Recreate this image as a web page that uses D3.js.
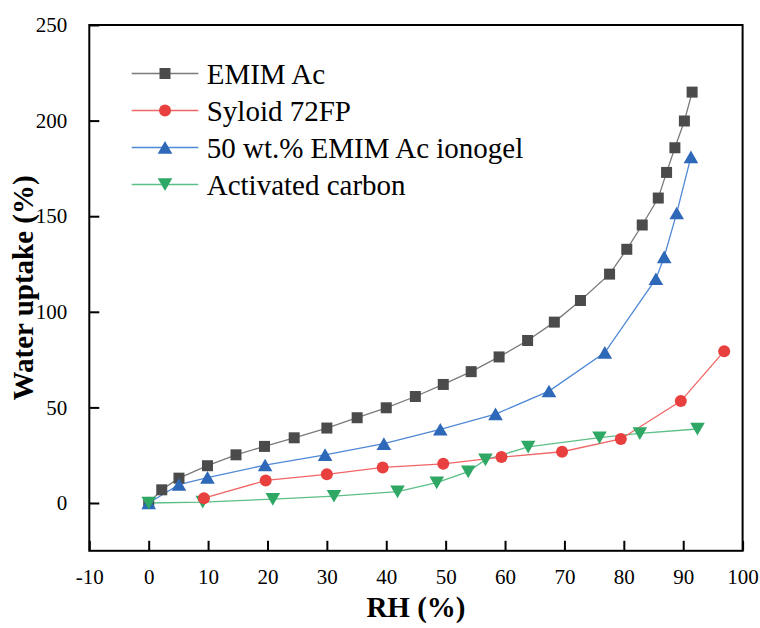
<!DOCTYPE html>
<html>
<head>
<meta charset="utf-8">
<script src="https://cdn.jsdelivr.net/npm/d3@7"></script>
<style>
  body { margin: 0; background: #fff; }
  svg { display: block; }
</style>
</head>
<body>
<script>
// Data
const xTicks = [-10, 0, 10, 20, 30, 40, 50, 60, 70, 80, 90, 100];
const yTicks = [0, 50, 100, 150, 200, 250];

const emimRH = [0, 2.2, 5.1, 9.9, 14.7, 19.5, 24.5, 30.0, 35.1, 40.0, 44.9, 49.6, 54.3, 59.0, 63.8, 68.3, 72.7, 77.6, 80.5, 83.1, 85.8, 87.2, 88.6, 90.2, 91.5];
const emimUptake = [0, 6.9, 13.0, 19.5, 25.2, 29.6, 34.1, 39.2, 44.6, 49.8, 55.7, 62.0, 68.7, 76.4, 85.0, 94.6, 105.9, 119.7, 132.7, 145.4, 159.5, 172.9, 185.8, 199.8, 214.9];

const syloidRH = [9.3, 19.7, 30.0, 39.4, 49.6, 59.4, 69.6, 79.5, 89.6, 96.9];
const syloidUptake = [2.5, 11.8, 15.0, 18.6, 20.5, 24.0, 26.8, 33.5, 53.3, 79.4];

const ionogelRH = [0, 5.1, 9.9, 19.6, 29.7, 39.6, 49.1, 58.4, 67.4, 76.8, 85.4, 86.8, 88.9, 91.3];
const ionogelUptake = [0, 9.6, 13.3, 19.8, 25.2, 31.0, 38.5, 46.5, 58.5, 78.7, 117.2, 128.7, 151.6, 181.0];

const carbonRH = [0, 9.1, 20.9, 31.2, 41.9, 48.5, 53.8, 56.7, 63.9, 75.9, 82.7, 92.4];
const carbonUptake = [0, 0.5, 2.0, 3.6, 5.9, 10.6, 16.4, 22.6, 29.3, 34.2, 36.4, 38.7];

const seriesNames = ["EMIM Ac", "Syloid 72FP", "50 wt.% EMIM Ac ionogel", "Activated carbon"];

// Build series table (draw order: black, blue, green, red)
const series = [
  { name: seriesNames[0], xs: emimRH, ys: emimUptake, shape: "square", fill: "#4b4b4b", line: "#7a7a7a", legend: 0 },
  { name: seriesNames[2], xs: ionogelRH, ys: ionogelUptake, shape: "up", fill: "#2e68b8", line: "#4f88d6", legend: 2 },
  { name: seriesNames[3], xs: carbonRH, ys: carbonUptake, shape: "down", fill: "#2fa865", line: "#5cbf88", legend: 3 },
  { name: seriesNames[1], xs: syloidRH, ys: syloidUptake, shape: "circle", fill: "#e8403f", line: "#f06565", legend: 1 }
];

const width = 760;
const height = 628;
const plot = { left: 89.3, right: 742.6, top: 25, bottom: 550.8 };
const font = "Liberation Serif, Times New Roman, serif";

const svg = d3
  .select("body")
  .append("svg")
  .attr("width", width)
  .attr("height", height)
  .attr("font-family", font);

// Scales
const x = d3.scaleLinear().domain([-10, 100]).range([plot.left, plot.right]);
const y = d3.scaleLinear().domain([-25, 250]).range([plot.bottom, plot.top]);

// Marker paths centred on their bounding box
function marker(shape) {
  if (shape === "square") return "M-5.5,-5.5H5.5V5.5H-5.5Z";
  if (shape === "circle") return d3.symbol(d3.symbolCircle, Math.PI * 36)();
  if (shape === "up") return "M0,-6.5L7.3,6.2L-7.3,6.2Z";
  return "M0,6.5L7.3,-6.2L-7.3,-6.2Z";
}

// Axes: ticks pointing inward, plain hyphen for negatives
svg
  .append("g")
  .attr("transform", `translate(0,${plot.bottom})`)
  .call(
    d3.axisBottom(x)
      .tickValues(xTicks)
      .tickFormat((d) => String(d))
      .tickSizeInner(-10)
      .tickSizeOuter(0)
      .tickPadding(18)
  )
  .attr("font-family", font)
  .attr("font-size", 21)
  .call((g) => g.select(".domain").remove())
  .call((g) => g.selectAll("line").attr("stroke", "#000").attr("stroke-width", 2))
  .call((g) => g.selectAll("text").attr("fill", "#000"));

svg
  .append("g")
  .attr("transform", `translate(${plot.left},0)`)
  .call(
    d3.axisLeft(y)
      .tickValues(yTicks)
      .tickFormat((d) => String(d))
      .tickSizeInner(-10)
      .tickSizeOuter(0)
      .tickPadding(22)
  )
  .attr("font-family", font)
  .attr("font-size", 21)
  .call((g) => g.select(".domain").remove())
  .call((g) => g.selectAll("line").attr("stroke", "#000").attr("stroke-width", 2))
  .call((g) => g.selectAll("text").attr("fill", "#000"));

// Frame
svg
  .append("rect")
  .attr("x", plot.left)
  .attr("y", plot.top)
  .attr("width", plot.right - plot.left)
  .attr("height", plot.bottom - plot.top)
  .attr("fill", "none")
  .attr("stroke", "#000")
  .attr("stroke-width", 2);

const line = d3
  .line()
  .x((d) => x(d[0]))
  .y((d) => y(d[1]));

// Lines first, then markers
series.forEach((s) => {
  const pts = s.xs.map((v, i) => [v, s.ys[i]]);
  svg
    .append("path")
    .datum(pts)
    .attr("d", line)
    .attr("fill", "none")
    .attr("stroke", s.line)
    .attr("stroke-width", 1.3);
});

series.forEach((s) => {
  const pts = s.xs.map((v, i) => [v, s.ys[i]]);
  svg
    .append("g")
    .selectAll("path")
    .data(pts)
    .enter()
    .append("path")
    .attr("d", marker(s.shape))
    .attr("transform", (d) => `translate(${x(d[0])},${y(d[1])})`)
    .attr("fill", s.fill);
});

// Legend
const legend = svg.append("g").attr("transform", "translate(131.7,73.5)");
const legendRows = series.slice().sort((a, b) => a.legend - b.legend);

legendRows.forEach((s, i) => {
  const row = legend.append("g").attr("transform", `translate(0,${i * 37})`);
  row
    .append("line")
    .attr("x1", 0)
    .attr("x2", 66.6)
    .attr("stroke", s.line)
    .attr("stroke-width", 1.3);
  row
    .append("path")
    .attr("d", marker(s.shape))
    .attr("transform", "translate(33.3,0)")
    .attr("fill", s.fill);
  row
    .append("text")
    .attr("x", 75)
    .attr("y", 10)
    .text(s.name)
    .attr("font-size", 29)
    .attr("fill", "#000");
});

// Axis titles
svg
  .append("text")
  .attr("x", (plot.left + plot.right) / 2)
  .attr("y", 617)
  .attr("text-anchor", "middle")
  .text("RH (%)")
  .attr("font-size", 29)
  .attr("font-weight", "bold");

svg
  .append("text")
  .attr("transform", `translate(33,${(plot.top + plot.bottom) / 2}) rotate(-90)`)
  .attr("text-anchor", "middle")
  .text("Water uptake (%)")
  .attr("font-size", 29)
  .attr("font-weight", "bold");
</script>
</body>
</html>
